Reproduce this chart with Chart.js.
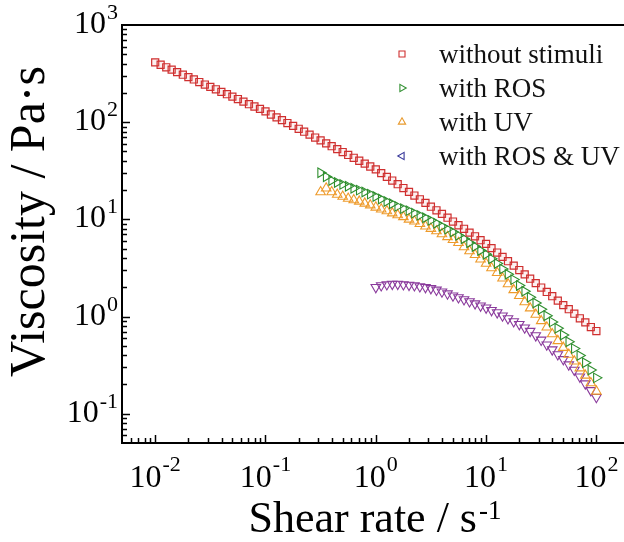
<!DOCTYPE html>
<html>
<head>
<meta charset="utf-8">
<title>Viscosity vs shear rate</title>
<script src="https://cdn.jsdelivr.net/npm/chart.js@4.4.1/dist/chart.umd.min.js"></script>
<style>
  html, body { margin: 0; padding: 0; background: #fff; overflow: hidden; }
  canvas { display: block; }
</style>
</head>
<body>
<canvas id="viscChart" width="660" height="542"></canvas>
<script>
// shear rate steps of the sweep (s-1)
const shearRate = [
  0.01, 0.0112, 0.0126, 0.0141, 0.0158, 0.0178, 0.02, 0.0224, 0.0251, 0.0282,
  0.0316, 0.0355, 0.0398, 0.0447, 0.0501, 0.0562, 0.0631, 0.0708, 0.0794, 0.0891,
  0.1, 0.112, 0.126, 0.141, 0.158, 0.178, 0.2, 0.224, 0.251, 0.282,
  0.316, 0.355, 0.398, 0.447, 0.501, 0.562, 0.631, 0.708, 0.794, 0.891,
  1, 1.12, 1.26, 1.41, 1.58, 1.78, 2, 2.24, 2.51, 2.82,
  3.16, 3.55, 3.98, 4.47, 5.01, 5.62, 6.31, 7.08, 7.94, 8.91,
  10, 11.2, 12.6, 14.1, 15.8, 17.8, 20, 22.4, 25.1, 28.2,
  31.6, 35.5, 39.8, 44.7, 50.1, 56.2, 63.1, 70.8, 79.4, 89.1,
  100
];

// viscosity (Pa·s)
const viscNoStimuli = [
  413, 390, 367, 347, 327, 308, 291, 275, 259, 244,
  231, 218, 205, 194, 183, 173, 163, 153, 145, 137,
  129, 120, 112, 105, 98, 91.5, 85.5, 79.8, 74.5, 69.5,
  64.9, 60.6, 56.6, 52.8, 49.3, 46.0, 43.0, 40.1, 37.5, 35.0,
  32.7, 29.9, 27.4, 25.1, 23.0, 21.0, 19.2, 17.6, 16.1, 14.8,
  13.5, 12.4, 11.4, 10.4, 9.5, 8.7, 8.0, 7.3, 6.7, 6.1,
  5.6, 5.06, 4.56, 4.11, 3.71, 3.34, 3.01, 2.72, 2.45, 2.21,
  1.99, 1.79, 1.62, 1.46, 1.31, 1.19, 1.07, 0.96, 0.87, 0.78,
  0.71
];
const viscROS = [
  30.2, 27.5, 25.1, 24.0, 22.9, 21.9, 20.9, 20.0, 19.1, 18.2,
  17.2, 16.2, 15.3, 14.5, 13.6, 12.9, 12.3, 11.6, 11.0, 10.4,
  9.77, 9.12, 8.51, 7.94, 7.41, 6.84, 6.31, 5.75, 5.25, 4.79,
  4.37, 3.94, 3.51, 3.09, 2.72, 2.40, 2.09, 1.82, 1.58, 1.38,
  1.19, 1.02, 0.881, 0.759, 0.646, 0.550, 0.468, 0.398, 0.335, 0.282,
  0.234
];
const viscUV = [
  19.1, 20.9, 19.1, 18.0, 17.2, 16.4, 15.8, 15.3, 14.6, 14.0,
  13.3, 12.7, 12.2, 11.6, 11.1, 10.6, 10.0, 9.55, 9.02, 8.51,
  8.04, 7.59, 7.08, 6.61, 6.17, 5.75, 5.19, 4.73, 4.32, 3.89,
  3.51, 3.16, 2.82, 2.48, 2.16, 1.88, 1.64, 1.41, 1.22, 1.05,
  0.902, 0.776, 0.661, 0.562, 0.479, 0.407, 0.347, 0.295, 0.248, 0.207,
  0.170
];
const viscROSUV = [
  2.00, 2.09, 2.14, 2.16, 2.16, 2.14, 2.11, 2.09, 2.04, 2.00,
  1.95, 1.88, 1.80, 1.72, 1.64, 1.57, 1.50, 1.43, 1.36, 1.29,
  1.23, 1.16, 1.10, 1.02, 0.955, 0.891, 0.832, 0.767, 0.708, 0.638,
  0.575, 0.513, 0.457, 0.407, 0.363, 0.320, 0.282, 0.240, 0.204, 0.174,
  0.148
];

const seriesNames = ['without stimuli', 'with ROS', 'with UV', 'with ROS & UV'];

// axis ticks: decades get a "10^n" label
const xDecades = [0.001, 0.01, 0.1, 1, 10, 100];
const xTickExp = ['-3', '-2', '-1', '0', '1', '2'];
const yDecades = [0.01, 0.1, 1, 10, 100, 1000];
const yTickExp = ['-2', '-1', '0', '1', '2', '3'];
const xTitle = ['Shear rate / s', '-1'];
const yTitle = 'Viscosity / Pa·s';

const serif = '"Liberation Serif", "Times New Roman", serif';

function points(xs, ys) {
  return ys.map((y, i) => ({ x: xs[i], y: y }));
}

function isDecade(v) {
  const e = Math.log10(v);
  return Math.abs(e - Math.round(e)) < 1e-6;
}

function minorTicks(decades, min, max) {
  const out = [];
  decades.forEach(d => {
    for (let m = 1; m <= 9; m++) {
      const v = +(d * m).toPrecision(3);
      if (v >= min * 0.9999 && v <= max * 1.0001) out.push({ value: v });
    }
  });
  return out;
}

// "10" with a raised exponent; align = 'right' or 'center'
function drawPower(ctx, exp, x, baseline, align, size, expSize, rise) {
  ctx.font = size + 'px ' + serif;
  const wBase = ctx.measureText('10').width;
  ctx.font = expSize + 'px ' + serif;
  const wExp = ctx.measureText(exp).width;
  const total = wBase + 1 + wExp;
  const left = align === 'right' ? x - total : x - total / 2;
  ctx.textAlign = 'left';
  ctx.textBaseline = 'alphabetic';
  ctx.font = size + 'px ' + serif;
  ctx.fillText('10', left, baseline);
  ctx.font = expSize + 'px ' + serif;
  ctx.fillText(exp, left + wBase + 1, baseline - rise);
}

// inward tick marks, top frame line, tick labels and the x title
const framePlugin = {
  id: 'frame',
  afterDraw(chart) {
    const { ctx, chartArea, scales } = chart;
    ctx.save();
    ctx.strokeStyle = '#000';
    ctx.lineWidth = 1.5;
    scales.y.ticks.forEach(t => {
      const py = Math.round(scales.y.getPixelForValue(t.value)) + 0.5;
      if (py < chartArea.top + 1 || py > chartArea.bottom - 1) return;
      const len = isDecade(t.value) ? 8 : 5;
      ctx.beginPath();
      ctx.moveTo(chartArea.left, py);
      ctx.lineTo(chartArea.left + len, py);
      ctx.stroke();
    });
    scales.x.ticks.forEach(t => {
      const px = Math.round(scales.x.getPixelForValue(t.value)) + 0.5;
      if (px < chartArea.left + 1 || px > chartArea.right) return;
      const len = isDecade(t.value) ? 8 : 5;
      ctx.beginPath();
      ctx.moveTo(px, chartArea.bottom);
      ctx.lineTo(px, chartArea.bottom - len);
      ctx.stroke();
    });
    ctx.lineWidth = 2;
    ctx.beginPath();
    ctx.moveTo(chartArea.left - 1, chartArea.top);
    ctx.lineTo(chartArea.right, chartArea.top);
    ctx.stroke();

    ctx.fillStyle = '#000';
    yDecades.forEach((d, i) => {
      if (d < scales.y.min || d > scales.y.max) return;
      const py = scales.y.getPixelForValue(d);
      drawPower(ctx, yTickExp[i], chartArea.left - 4, py + 8, 'right', 32, 22, 14);
    });
    xDecades.forEach((d, i) => {
      if (d < scales.x.min || d > scales.x.max) return;
      const px = scales.x.getPixelForValue(d);
      drawPower(ctx, xTickExp[i], px, chartArea.bottom + 44, 'center', 32, 22, 16);
    });

    // x axis title with superscript
    ctx.font = '44px ' + serif;
    const w1 = ctx.measureText(xTitle[0]).width;
    ctx.font = '27px ' + serif;
    const w2 = ctx.measureText(xTitle[1]).width;
    const tx = 375 - (w1 + 2 + w2) / 2;
    ctx.textAlign = 'left';
    ctx.textBaseline = 'alphabetic';
    ctx.font = '44px ' + serif;
    ctx.fillText(xTitle[0], tx, 532);
    ctx.font = '27px ' + serif;
    ctx.fillText(xTitle[1], tx + w1 + 2, 519);
    ctx.restore();
  }
};

// legend in the upper right corner, as in the figure
const legendMarks = [
  { style: 'rect', rotation: 0, color: '#cf2f2f' },
  { style: 'triangle', rotation: 90, color: '#2f8f2f' },
  { style: 'triangle', rotation: 0, color: '#e89a2e' },
  { style: 'triangle', rotation: 270, color: '#38389a' }
];
const legendPlugin = {
  id: 'cornerLegend',
  afterDraw(chart) {
    const ctx = chart.ctx;
    ctx.save();
    seriesNames.forEach((name, i) => {
      const mx = 402, my = 54 + i * 34;
      const m = legendMarks[i];
      ctx.strokeStyle = m.color;
      ctx.lineWidth = 1.1;
      ctx.beginPath();
      if (m.style === 'rect') {
        ctx.rect(mx - 3, my - 3, 6, 6);
      } else {
        const r = 4.2;
        for (let k = 0; k < 3; k++) {
          const a = (m.rotation + k * 120) * Math.PI / 180;
          const px = mx + Math.sin(a) * r, py = my - Math.cos(a) * r;
          if (k === 0) ctx.moveTo(px, py); else ctx.lineTo(px, py);
        }
        ctx.closePath();
      }
      ctx.stroke();
      ctx.fillStyle = '#111';
      ctx.font = '27px ' + serif;
      ctx.textAlign = 'left';
      ctx.textBaseline = 'alphabetic';
      ctx.fillText(name, 439, my + 9);
    });
    ctx.restore();
  }
};

const ctx = document.getElementById('viscChart').getContext('2d');
new Chart(ctx, {
  type: 'scatter',
  data: {
    datasets: [
      {
        label: seriesNames[0],
        data: points(shearRate, viscNoStimuli),
        pointStyle: 'rect', pointRadius: 5, pointBorderWidth: 1.2,
        borderColor: '#cf2f2f', backgroundColor: 'rgba(230,140,140,0.12)'
      },
      {
        label: seriesNames[1],
        data: points(shearRate.slice(30), viscROS),
        pointStyle: 'triangle', rotation: 90, pointRadius: 5.5, pointBorderWidth: 1.1,
        borderColor: '#2f8f2f', backgroundColor: 'rgba(0,0,0,0)'
      },
      {
        label: seriesNames[2],
        data: points(shearRate.slice(30), viscUV),
        pointStyle: 'triangle', rotation: 0, pointRadius: 5.5, pointBorderWidth: 1.1,
        borderColor: '#ee9a2a', backgroundColor: 'rgba(0,0,0,0)'
      },
      {
        label: seriesNames[3],
        data: points(shearRate.slice(40), viscROSUV),
        pointStyle: 'triangle', rotation: 180, pointRadius: 5.5, pointBorderWidth: 1.1,
        borderColor: '#8a3a9c', backgroundColor: 'rgba(0,0,0,0)'
      }
    ]
  },
  options: {
    responsive: false,
    animation: false,
    layout: { padding: { top: 25, right: 11, left: 0, bottom: 0 } },
    plugins: { legend: { display: false }, tooltip: { enabled: false } },
    scales: {
      x: {
        type: 'logarithmic',
        position: 'bottom',
        min: 0.005,
        max: 300,
        afterBuildTicks: s => { s.ticks = minorTicks(xDecades, 0.005, 300); },
        afterFit: s => { s.height = 99; },
        grid: { display: false, drawTicks: false },
        border: { display: true, color: '#000', width: 2 },
        ticks: { display: false }
      },
      y: {
        type: 'logarithmic',
        position: 'left',
        min: 0.05,
        max: 1000,
        afterBuildTicks: s => { s.ticks = minorTicks(yDecades, 0.05, 1000); },
        afterFit: s => { s.width = 122; },
        grid: { display: false, drawTicks: false },
        border: { display: true, color: '#000', width: 2 },
        ticks: { display: false },
        title: {
          display: true, text: '  ' + yTitle, color: '#000',
          font: { family: serif, size: 50, lineHeight: 1 },
          padding: { top: 6, bottom: 0 }
        }
      }
    }
  },
  plugins: [framePlugin, legendPlugin]
});
</script>
</body>
</html>
